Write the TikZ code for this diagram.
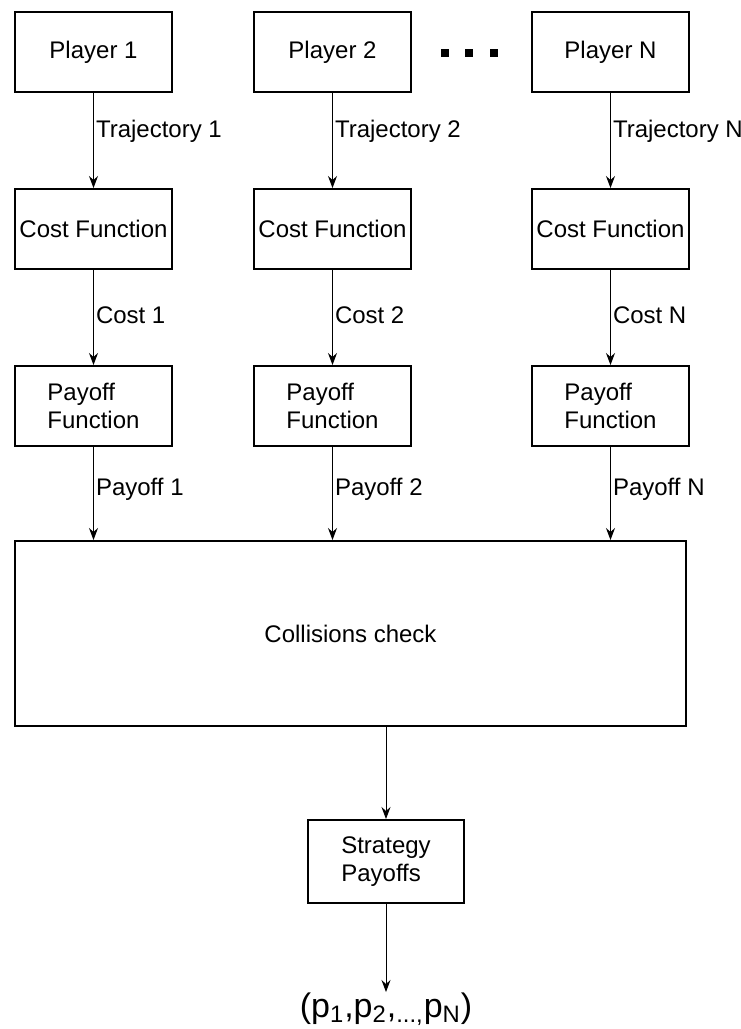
\documentclass[tikz,border=0pt]{standalone}
\usepackage{fontspec}
\setmainfont{Liberation Sans}
\usetikzlibrary{positioning,arrows.meta}

\begin{document}
\begin{tikzpicture}[
  block/.style={draw, line width=1pt, minimum width=78.5pt, minimum height=40pt, inner sep=1pt, font=\fontsize{12}{14}\selectfont},
  flow/.style={-{Stealth[length=6pt,width=4.5pt,inset=2pt]}, line width=0.5pt},
  lbl/.style={right, inner sep=1pt, font=\fontsize{12}{14}\selectfont},
  dotsq/.style={fill, minimum size=4pt, inner sep=0pt}
]
  \useasboundingbox (0,0) rectangle (370pt,-514.5pt);

  % players
  \node[block] (pl1) at (46.75pt,-26pt) {Player 1};
  \node[block, right=40pt of pl1] (pl2) {Player 2};
  \node[block, right=59.5pt of pl2] (plN) {Player N};

  \foreach \i/\x in {1/222.5, 2/234.5, 3/247}
    \node[dotsq] (dot\i) at (\x pt,-26.5pt) {};

  % cost and payoff functions
  \foreach \c in {1,2,N} {
    \node[block, below=47.5pt of pl\c] (cost\c) {Cost Function};
    \node[block, align=left, below=47.5pt of cost\c] (pay\c) {Payoff\\Function};
  }

  \node[block, minimum width=335.5pt, minimum height=92.5pt, below right=46.5pt and 0pt of pay1.south west] (coll) {Collisions check};

  \node[block, minimum width=78pt, minimum height=41.5pt, align=left, below=46pt of coll.south, xshift=17.75pt] (strat) {Strategy\\Payoffs};
  \node[below=44pt of strat, inner sep=0pt, font=\fontsize{17}{19}\selectfont] (out) {(p\textsubscript{1},p\textsubscript{2},\textsubscript{...,}p\textsubscript{N})};

  \foreach \c in {1,2,N} {
    \draw[flow] (pl\c) -- node[lbl, pos=0.4] {Trajectory \c} (cost\c);
    \draw[flow] (cost\c) -- node[lbl, pos=0.48] {Cost \c} (pay\c);
    \draw[flow] (pay\c) -- node[lbl, pos=0.45] {Payoff \c} (pay\c |- coll.north);
  }

  \draw[flow] (strat.north |- coll.south) -- (strat);
  \draw[flow] (strat) -- (out);

\end{tikzpicture}
\end{document}
